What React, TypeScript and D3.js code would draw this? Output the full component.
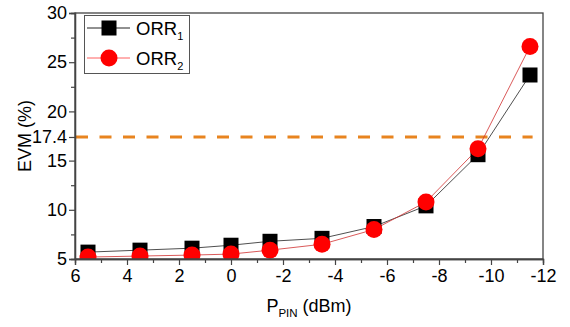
import React, { useEffect, useRef } from 'react';
import * as d3 from 'd3';

// input power (dBm)
const pinValues = [5.5, 3.5, 1.5, 0, -1.5, -3.5, -5.5, -7.5, -9.5, -11.5];
// EVM (%)
const orr1Values = [5.7, 5.9, 6.1, 6.4, 6.8, 7.1, 8.3, 10.4, 15.6, 23.7];
const orr2Values = [5.2, 5.3, 5.4, 5.5, 5.9, 6.5, 8.0, 10.8, 16.2, 26.6];
const xTicks = [6, 4, 2, 0, -2, -4, -6, -8, -10, -12];
const yTicks = [5, 10, 15, 17.4, 20, 25, 30];
const threshold = 17.4;

const W = 570, H = 327;
const margin = { top: 13, right: 27, bottom: 68, left: 75 };

export default function App() {
  const ref = useRef<SVGSVGElement | null>(null);

  useEffect(() => {
    const svg = d3.select(ref.current);
    svg.selectAll('*').remove();

    const x = d3.scaleLinear().domain([6, -12]).range([margin.left, W - margin.right]);
    const y = d3.scaleLinear().domain([5, 30]).range([H - margin.bottom, margin.top]);
    const font = 'Liberation Sans, Arial, sans-serif';

    svg.append('defs').append('clipPath').attr('id', 'plotclip')
      .append('rect')
      .attr('x', margin.left).attr('y', margin.top)
      .attr('width', W - margin.left - margin.right)
      .attr('height', H - margin.top - margin.bottom);

    // threshold line
    svg.append('line')
      .attr('x1', x(6) + 1).attr('x2', x(-11.6))
      .attr('y1', y(threshold)).attr('y2', y(threshold))
      .attr('stroke', '#e8841f').attr('stroke-width', 3)
      .attr('stroke-dasharray', '12,11.5');

    const plot = svg.append('g').attr('clip-path', 'url(#plotclip)');
    const line = d3.line<number>().x((d, i) => x(pinValues[i])).y(d => y(d));

    plot.append('path').datum(orr1Values).attr('d', line)
      .attr('fill', 'none').attr('stroke', '#222').attr('stroke-width', 0.8);
    plot.append('path').datum(orr2Values).attr('d', line)
      .attr('fill', 'none').attr('stroke', '#d03030').attr('stroke-width', 0.8);

    plot.selectAll('rect.sq').data(orr1Values).enter().append('rect')
      .attr('class', 'sq')
      .attr('x', (d, i) => x(pinValues[i]) - 7.5)
      .attr('y', d => y(d) - 7.5)
      .attr('width', 15).attr('height', 15)
      .attr('fill', '#000');
    plot.selectAll('circle').data(orr2Values).enter().append('circle')
      .attr('cx', (d, i) => x(pinValues[i]))
      .attr('cy', d => y(d))
      .attr('r', 8.5)
      .attr('fill', '#ff0000');

    // frame
    svg.append('rect')
      .attr('x', margin.left).attr('y', margin.top)
      .attr('width', W - margin.left - margin.right)
      .attr('height', H - margin.top - margin.bottom)
      .attr('fill', 'none').attr('stroke', '#444').attr('stroke-width', 1.3);

    // x axis
    const xAxis = d3.axisBottom(x).tickValues(xTicks).tickSize(6).tickPadding(4).tickFormat(d => String(d));
    const gx = svg.append('g').attr('transform', `translate(0,${H - margin.bottom})`).call(xAxis);
    const xMinor = d3.axisBottom(x).tickValues(d3.range(5, -12, -2)).tickSize(4).tickFormat(() => '');
    const gxm = svg.append('g').attr('transform', `translate(0,${H - margin.bottom})`).call(xMinor);

    // y axis
    const yAxis = d3.axisLeft(y).tickValues(yTicks).tickSize(6).tickPadding(2).tickFormat(d => String(d));
    const gy = svg.append('g').attr('transform', `translate(${margin.left},0)`).call(yAxis);
    const yMinor = d3.axisLeft(y).tickValues([7.5, 12.5, 22.5, 27.5]).tickSize(4).tickFormat(() => '');
    const gym = svg.append('g').attr('transform', `translate(${margin.left},0)`).call(yMinor);

    [gx, gxm, gy, gym].forEach(g => {
      g.select('.domain').attr('stroke', '#444').attr('stroke-width', 1.3);
      g.selectAll('.tick line').attr('stroke', '#444').attr('stroke-width', 1.2);
      g.selectAll('.tick text').attr('font-family', font).attr('font-size', 18).attr('fill', '#000');
    });

    // axis titles
    const xt = svg.append('text')
      .attr('x', (margin.left + W - margin.right) / 2).attr('y', 312)
      .attr('text-anchor', 'middle').attr('font-family', font).attr('font-size', 18);
    xt.append('tspan').text('P');
    xt.append('tspan').attr('font-size', 11.5).attr('dy', 5).text('PIN');
    xt.append('tspan').attr('dy', -5).text(' (dBm)');

    svg.append('text')
      .attr('transform', `translate(31,${(margin.top + H - margin.bottom) / 2}) rotate(-90)`)
      .attr('text-anchor', 'middle').attr('font-family', font).attr('font-size', 18)
      .text('EVM (%)');

    // legend
    const lg = svg.append('g');
    lg.append('rect').attr('x', 84.5).attr('y', 15.5).attr('width', 105).attr('height', 58)
      .attr('fill', '#fff').attr('stroke', '#555').attr('stroke-width', 1);
    const items = [
      { name: '1', color: '#222', shape: 'square', cy: 28 },
      { name: '2', color: '#ff6060', shape: 'circle', cy: 58 },
    ];
    items.forEach(it => {
      lg.append('line').attr('x1', 87).attr('x2', 130).attr('y1', it.cy).attr('y2', it.cy)
        .attr('stroke', it.color).attr('stroke-width', 1);
      if (it.shape === 'square') {
        lg.append('rect').attr('x', 109 - 7.5).attr('y', it.cy - 7.5).attr('width', 15).attr('height', 15).attr('fill', '#000');
      } else {
        lg.append('circle').attr('cx', 109).attr('cy', it.cy).attr('r', 8.5).attr('fill', '#ff0000');
      }
      const t = lg.append('text').attr('x', 136).attr('y', it.cy + 6.5)
        .attr('font-family', font).attr('font-size', 18.5);
      t.append('tspan').text('ORR');
      t.append('tspan').attr('font-size', 11).attr('dy', 5).text(it.name);
    });
  }, []);

  return (
    <svg ref={ref} width={W} height={H}
      style={{ position: 'absolute', left: 0, top: 0, background: '#fff' }} />
  );
}
